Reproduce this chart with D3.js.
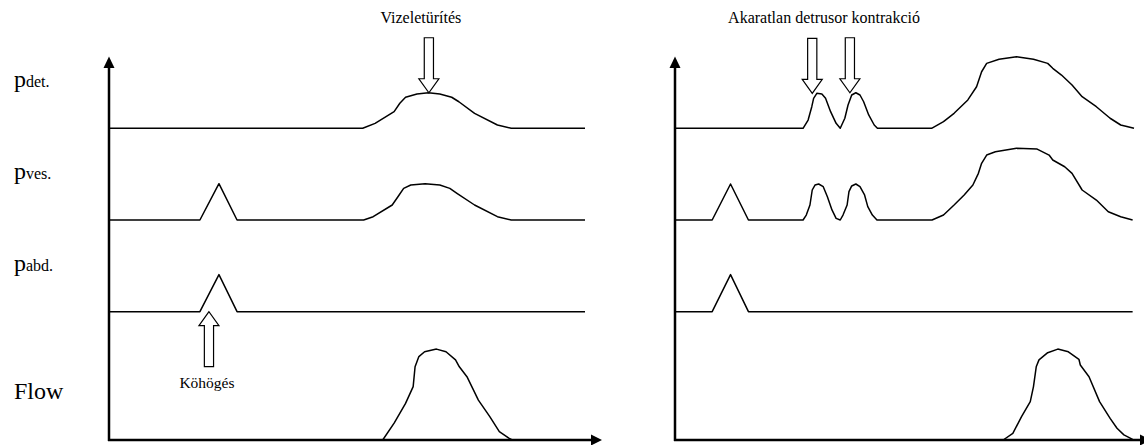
<!DOCTYPE html>
<html><head><meta charset="utf-8">
<script src="https://cdn.jsdelivr.net/npm/d3@7"></script>
<style>html,body{margin:0;padding:0;background:#fff;}svg{display:block;}</style>
</head><body>
<script>
// ---------- DATA (time in % of trace, pressure in cmH2O-like units, flow in ml/s-like units) ----------
const rowLabels = [["p","det."],["p","ves."],["p","abd."],["Flow",""]];

// Left panel: normal voiding + cough
const L_pdet_t = [0,53.3,55.9,59.9,61.1,62.3,64.7,67.1,69.5,72,73.5,76.8,81.6,84.5,100];
const L_pdet_v = [0,0,3.3,11.1,16.7,20.7,22.9,23.7,22.9,20.7,17.7,10,2.2,0,0];
const L_pves_t = [0,19.1,23.1,26.9,53.5,55.5,59.5,60.7,61.9,63.4,66.4,69.5,71.6,73.1,76.8,81.6,84.5,100];
const L_pves_v = [0,0,24.2,0,0,2.2,10,15.5,21.1,23.3,24.2,23.3,21.1,17.8,10,2.2,0,0];
const L_pabd_t = [0,19.1,23.1,26.9,100];
const L_pabd_v = [0,0,24.7,0,0];
const L_flow_t = [57.5,59.9,62.3,63.9,64.3,65.1,66.3,68.8,70.8,72.8,73.6,75.2,77.6,80,82,84,84.7];
const L_flow_v = [0,5.6,12.2,17.8,24.4,27.8,29.4,30.3,29.4,26.7,24.4,21.1,13.3,7.8,2.8,0.6,0];

// Right panel: involuntary detrusor contractions
const R_pdet_t = [0,27.9,29,29.8,30.2,30.9,32,32.8,33.9,35.1,36,37,37.7,38.5,39.4,40.3,41.1,42.2,43.4,44.1,55.9,58.5,60.8,63.8,65.7,66.8,67.9,70.6,74.4,78.1,81.2,82.3,84.2,86.5,88.7,91.8,94.8,97.1,100];
const R_pdet_v = [0,0,5.5,14.4,20,23.3,22.9,20,11.1,3.3,0,6.7,15.5,22.2,23.7,22.2,17.7,8.9,2.2,0,0,4.4,10,18.9,27.7,37.7,43.3,46,47.7,46,43.3,40,35.5,28.9,21.1,14.4,6.7,2.2,0];
const R_pves_t = [0,8.1,12.1,16,27.9,28.6,29.4,29.9,30.5,31.3,32.3,33.2,34.2,35.1,36,36.6,37.5,37.9,38.5,39.4,40.3,41.3,42,43,44,56,58.5,60.8,63,64.9,66.1,66.8,67.9,69.8,74.4,78.9,81.5,82.3,84.9,86.5,88.7,91.8,94.4,97.1,99.7];
const R_pves_v = [0,0,24,0,0,3.3,10,20,23.3,24,22.2,15.5,6.7,1.1,0,3.3,10,18.9,22.7,24,22.2,16.7,8.9,3.3,0,0,3.3,10,16.7,23.3,31.1,37.8,43.3,45.5,47.8,47.3,43.3,40,35.5,31.1,20,13.3,5.5,2.2,0];
const R_pabd_t = [0,8.1,12.1,16,99.7];
const R_pabd_v = [0,0,24.7,0,0];
const R_flow_t = [71.5,73.6,75.5,77.4,78.1,78.7,79.3,81.2,83.4,85.7,88,88.3,90.2,92.5,94.8,96.3,97.8,99.7];
const R_flow_v = [0,2.2,7.8,12.8,17.8,24.4,26.7,29.1,30.3,29.4,26.9,25,21.1,12.8,7.2,3.9,1.7,0.2];

// Annotations
const L_voidArrow_t = [67.2];            // "Vizeletürítés" (down arrow onto pdet peak)
const L_voidArrow_v = [23.7];
const L_coughArrow_t = [21];             // "Köhögés" (up arrow onto pabd)
const R_idcArrow_t = [29.9, 38.1];       // "Akaratlan detrusor kontrakció"
const R_idcArrow_v = [23.3, 23.7];
const annotationTexts = ["Vizeletürítés","Köhögés","Akaratlan detrusor kontrakció"];

// ---------- LAYOUT ----------
const W = 1144, H = 445;
const svg = d3.select("body").append("svg").attr("width",W).attr("height",H);
const serif = "'Liberation Serif','Times New Roman',serif";
const baselines = [128.3, 220, 311.7, 440];
const axisBottom = 440;

const panels = [
  {x: d3.scaleLinear().domain([0,100]).range([109,585]), axisX:109, xEnd:602,
   series:[[L_pdet_t,L_pdet_v],[L_pves_t,L_pves_v],[L_pabd_t,L_pabd_v],[L_flow_t,L_flow_v]]},
  {x: d3.scaleLinear().domain([0,100]).range([675,1134]), axisX:675, xEnd:1151,
   series:[[R_pdet_t,R_pdet_v],[R_pves_t,R_pves_v],[R_pabd_t,R_pabd_v],[R_flow_t,R_flow_v]]}
];
const yScales = baselines.map((b,i)=> i<3
   ? d3.scaleLinear().domain([0,50]).range([b, b-75])
   : d3.scaleLinear().domain([0,30]).range([b, b-90]));

// Row labels
rowLabels.forEach((lab,i)=>{
  const t = svg.append("text").attr("x",14).attr("y",baselines[i]-41)
    .attr("font-family",serif).attr("fill","#000");
  t.append("tspan").attr("font-size",24).text(lab[0]);
  if(lab[1]) t.append("tspan").attr("font-size",16).text(lab[1]);
});

// Axes
panels.forEach(p=>{
  const g = svg.append("g");
  g.append("line").attr("x1",p.axisX).attr("x2",p.axisX).attr("y1",axisBottom+1).attr("y2",66)
    .attr("stroke","#000").attr("stroke-width",2.5);
  g.append("path").attr("d",`M${p.axisX-5.5},68 L${p.axisX},56.5 L${p.axisX+5.5},68 Z`).attr("fill","#000");
  g.append("line").attr("x1",p.axisX-1).attr("x2",p.xEnd-10).attr("y1",axisBottom).attr("y2",axisBottom)
    .attr("stroke","#000").attr("stroke-width",2.5);
  g.append("path").attr("d",`M${p.xEnd-11},${axisBottom-5.5} L${p.xEnd},${axisBottom} L${p.xEnd-11},${axisBottom+5.5} Z`).attr("fill","#000");
});

// Traces
panels.forEach(p=>{
  p.series.forEach((s,i)=>{
    const pts = s[0].map((t,k)=>[t,s[1][k]]);
    const line = d3.line().x(d=>p.x(d[0])).y(d=>yScales[i](d[1])).curve(d3.curveLinear);
    svg.append("path").attr("d",line(pts)).attr("fill","none")
      .attr("stroke","#000").attr("stroke-width",1.5).attr("stroke-linejoin","round");
  });
});

// Hollow arrow helper: tip at (x,y), dir = +1 pointing down, -1 pointing up
function hollowArrow(x, y, dir){
  const len=55, head=14, hw=10, sw=4.6;
  const s = -dir; // direction from tip towards tail
  const yb = y + s*head, yt = y + s*len;
  const d = `M${x},${y} L${x-hw},${yb} L${x-sw},${yb} L${x-sw},${yt} L${x+sw},${yt} L${x+sw},${yb} L${x+hw},${yb} Z`;
  svg.append("path").attr("d",d).attr("fill","#fff").attr("stroke","#000").attr("stroke-width",1.2)
    .attr("stroke-linejoin","miter");
}

// Left: voiding arrow
L_voidArrow_t.forEach((t,k)=> hollowArrow(panels[0].x(t), yScales[0](L_voidArrow_v[k]), 1));
svg.append("text").attr("x",panels[0].x(L_voidArrow_t[0])-8).attr("y",23).attr("text-anchor","middle")
  .attr("font-family",serif).attr("font-size",16).attr("fill","#000").text(annotationTexts[0]);

// Left: cough arrow
L_coughArrow_t.forEach(t=> hollowArrow(panels[0].x(t), yScales[2](0), -1));
svg.append("text").attr("x",panels[0].x(L_coughArrow_t[0])-2).attr("y",388).attr("text-anchor","middle")
  .attr("font-family",serif).attr("font-size",15.5).attr("fill","#000").text(annotationTexts[1]);

// Right: involuntary contraction arrows
R_idcArrow_t.forEach((t,k)=> hollowArrow(panels[1].x(t), yScales[0](R_idcArrow_v[k]), 1));
svg.append("text").attr("x",(panels[1].x(R_idcArrow_t[0])+panels[1].x(R_idcArrow_t[1]))/2-7).attr("y",23)
  .attr("text-anchor","middle").attr("font-family",serif).attr("font-size",16).attr("fill","#000")
  .text(annotationTexts[2]);
</script>
</body></html>
